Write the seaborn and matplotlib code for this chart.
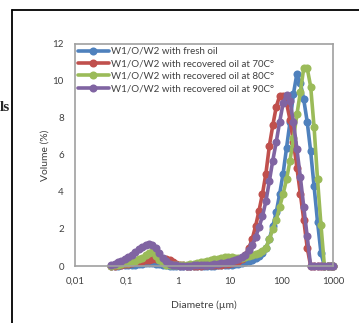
import pandas as pd
import matplotlib
matplotlib.use("Agg")
import matplotlib.pyplot as plt
import seaborn as sns
from matplotlib.lines import Line2D
from matplotlib.ticker import FixedLocator, FuncFormatter, NullLocator

# particle size bins (µm)
diameter = [0.0501, 0.0585, 0.0681, 0.0794, 0.0926, 0.108, 0.126, 0.147, 0.171, 0.200,
            0.233, 0.271, 0.316, 0.369, 0.430, 0.501, 0.585, 0.681, 0.794, 0.926,
            1.08, 1.26, 1.47, 1.71, 2.00, 2.33, 2.71, 3.16, 3.69, 4.30,
            5.01, 5.85, 6.81, 7.94, 9.26, 10.8, 12.6, 14.7, 17.1, 20.0,
            23.3, 27.1, 31.6, 36.9, 43.0, 50.1, 58.5, 68.1, 79.4, 92.6,
            108, 126, 147, 171, 200, 233, 271, 316, 369, 430,
            501, 585, 681, 794, 926, 1000]

# volume (%)
fresh = [0.00, 0.01, 0.02, 0.03, 0.04, 0.05, 0.06, 0.08, 0.10, 0.12,
         0.14, 0.15, 0.15, 0.13, 0.10, 0.07, 0.04, 0.02, 0.01, 0.00,
         0.00, 0.00, 0.00, 0.00, 0.00, 0.00, 0.00, 0.00, 0.00, 0.01,
         0.02, 0.03, 0.04, 0.05, 0.06, 0.08, 0.10, 0.13, 0.17, 0.22,
         0.28, 0.35, 0.43, 0.55, 0.70, 0.95, 1.45, 2.15, 2.90, 3.90,
         5.00, 6.40, 7.80, 9.30, 10.40, 9.90, 9.00, 7.80, 6.20, 4.30,
         2.40, 0.70, 0.00, 0.00, 0.00, 0.00]
oil_70 = [0.00, 0.02, 0.04, 0.06, 0.09, 0.12, 0.15, 0.19, 0.23, 0.27,
          0.31, 0.34, 0.36, 0.38, 0.40, 0.40, 0.37, 0.30, 0.20, 0.11,
          0.06, 0.03, 0.02, 0.02, 0.02, 0.02, 0.02, 0.03, 0.03, 0.04,
          0.05, 0.06, 0.07, 0.09, 0.11, 0.15, 0.20, 0.28, 0.40, 0.60,
          0.95, 1.45, 2.15, 3.00, 3.90, 5.00, 6.50, 7.60, 8.60, 9.20,
          9.20, 8.80, 7.90, 6.70, 5.30, 3.90, 2.50, 1.00, 0.00, 0.00,
          0.00, 0.00, 0.00, 0.00, 0.00, 0.00]
oil_80 = [0.02, 0.04, 0.07, 0.10, 0.14, 0.18, 0.23, 0.29, 0.36, 0.45,
          0.57, 0.68, 0.73, 0.55, 0.33, 0.17, 0.08, 0.05, 0.04, 0.04,
          0.05, 0.06, 0.08, 0.10, 0.13, 0.16, 0.20, 0.24, 0.28, 0.32,
          0.36, 0.40, 0.44, 0.47, 0.48, 0.47, 0.45, 0.44, 0.45, 0.48,
          0.52, 0.57, 0.63, 0.72, 0.82, 1.00, 1.45, 2.00, 2.50, 3.20,
          3.90, 4.70, 5.70, 6.90, 8.20, 9.40, 10.70, 10.70, 9.70, 7.50,
          4.70, 2.20, 0.00, 0.00, 0.00, 0.00]
oil_90 = [0.05, 0.12, 0.20, 0.28, 0.37, 0.47, 0.60, 0.75, 0.90, 1.02,
          1.12, 1.18, 1.15, 0.95, 0.70, 0.45, 0.25, 0.12, 0.06, 0.03,
          0.02, 0.02, 0.02, 0.02, 0.03, 0.03, 0.04, 0.05, 0.06, 0.08,
          0.10, 0.12, 0.15, 0.18, 0.22, 0.26, 0.30, 0.38, 0.48, 0.62,
          0.85, 1.15, 1.55, 2.10, 2.70, 3.50, 4.60, 5.70, 6.70, 7.80,
          8.80, 9.25, 8.90, 7.80, 6.30, 4.80, 3.20, 1.60, 0.00, 0.00,
          0.00, 0.00, 0.00, 0.00, 0.00, 0.00]

labels = ["W1/O/W2 with fresh oil",
          "W1/O/W2 with recovered oil at 70C°",
          "W1/O/W2 with recovered oil at 80C°",
          "W1/O/W2 with recovered oil at 90C°"]
colors = ["#4F81BD", "#C0504D", "#9BBB59", "#8064A2"]

x_ticks = [0.01, 0.1, 1, 10, 100, 1000]
y_ticks = [0, 2, 4, 6, 8, 10, 12]

frames = []
for name, vals in zip(labels, [fresh, oil_70, oil_80, oil_90]):
    frames.append(pd.DataFrame({"Diameter": diameter, "Volume": vals, "Series": name}))
df = pd.concat(frames, ignore_index=True)

sns.set_style("white")
plt.rcParams["font.family"] = ["Lato", "DejaVu Sans"]

fig = plt.figure(figsize=(3.59, 3.23), dpi=100)
ax = fig.add_axes([75 / 359, 1 - 266 / 323, 258 / 359, 222 / 323])

lw = 2.6
ms = 5.8
sns.lineplot(data=df, x="Diameter", y="Volume", hue="Series", hue_order=labels,
             palette=colors, marker="o", markersize=ms, markeredgewidth=0,
             linewidth=lw, errorbar=None, sort=False, ax=ax, clip_on=False)

ax.set_xscale("log")
ax.set_xlim(0.01, 1000)
ax.set_ylim(0, 12)
ax.xaxis.set_major_locator(FixedLocator(x_ticks))
ax.xaxis.set_minor_locator(NullLocator())
ax.xaxis.set_major_formatter(FuncFormatter(lambda v, p: f"{v:g}".replace(".", ",")))
ax.set_yticks(y_ticks)
ax.tick_params(length=0, labelsize=7, labelcolor="#404040", pad=8)

for s in ax.spines.values():
    s.set_color("#A0A0A0")
    s.set_linewidth(1.2)

ax.set_xlabel("Diametre (µm)", fontsize=7.5, color="#404040", labelpad=10)
ax.set_ylabel("Volume (%)", fontsize=7.5, color="#404040", labelpad=2)

handles = [Line2D([], [], color=c, lw=lw, marker="o", markersize=ms, markeredgewidth=0)
           for c in colors]
ax.legend(handles, labels, loc="upper left", frameon=False, fontsize=7,
          handlelength=3.2, handletextpad=0.2, labelspacing=0.35,
          borderaxespad=0.2, borderpad=0.1, labelcolor="#404040")

# page frame around the figure
fig.add_artist(Line2D([12 / 359, 12 / 359], [0, 1 - 10 / 323], color="black", lw=1.3))
fig.add_artist(Line2D([12 / 359, 1], [1 - 10 / 323, 1 - 10 / 323], color="black", lw=1.3))
fig.text(0, 1 - 107 / 323, "ls", family="Liberation Serif", fontsize=11,
         weight="bold", va="center", ha="left")

fig.savefig("out.png", dpi=100)
